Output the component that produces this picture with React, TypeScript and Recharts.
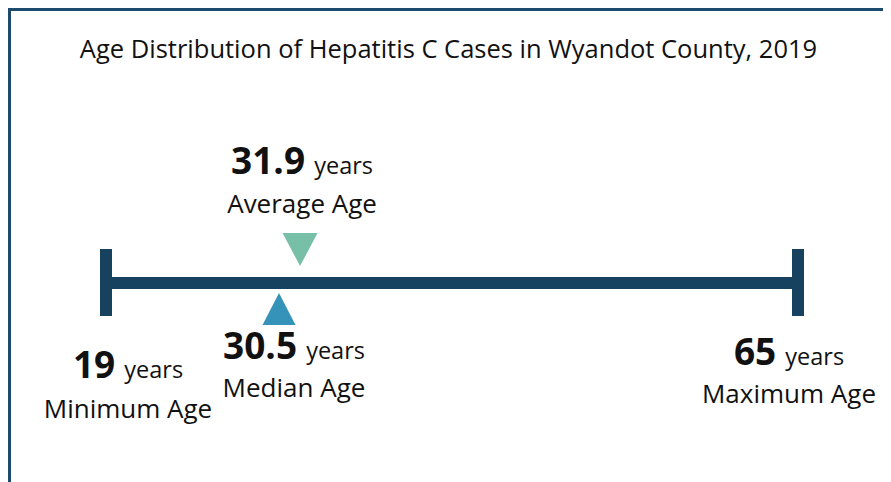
import React from 'react';
import { ScatterChart, Scatter, XAxis, YAxis } from 'recharts';

const statLabels = ['Minimum Age', 'Average Age', 'Median Age', 'Maximum Age'];
const statAges = [19, 31.9, 30.5, 65];

const NAVY = '#17425f';
const FONT = '"Open Sans", "Noto Sans", sans-serif';

const toPoint = (i: number) => ({ age: statAges[i], level: 0, label: statLabels[i] });
const rangeData = [toPoint(0), toPoint(3)];
const averageData = [toPoint(1)];
const medianData = [toPoint(2)];

// text block: bold value + "years", then the stat name underneath
const StatText = ({ x, y, gap, value, label }: any) => (
  <g fontFamily={FONT} fill="#111">
    <text x={x} y={y} textAnchor="middle">
      <tspan fontWeight={700} fontSize={37}>{value}</tspan>
      <tspan fontSize={23.5} dx={3}>{' years'}</tspan>
    </text>
    <text x={x} y={y + gap} textAnchor="middle" fontSize={26}>{label}</text>
  </g>
);

const CapShape = (props: any) => {
  const { cx, cy, payload } = props;
  const isMin = payload.age === statAges[0];
  return (
    <g>
      <rect x={cx - 6} y={cy - 34} width={12} height={67} fill={NAVY} />
      <StatText
        x={isMin ? cx + 22 : cx - 9}
        y={isMin ? cy + 95 : cy + 82}
        gap={isMin ? 40 : 38}
        value={payload.age}
        label={payload.label}
      />
    </g>
  );
};

const AverageShape = (props: any) => {
  const { cx, cy, payload } = props;
  return (
    <g>
      <polygon points={`${cx - 17.5},${cy - 50} ${cx + 17.5},${cy - 50} ${cx},${cy - 17}`} fill="#77bfa6" />
      <StatText x={cx + 2} y={cy - 109} gap={39} value={payload.age} label={payload.label} />
    </g>
  );
};

const MedianShape = (props: any) => {
  const { cx, cy, payload } = props;
  return (
    <g>
      <polygon points={`${cx - 16.5},${cy + 42} ${cx + 16.5},${cy + 42} ${cx},${cy + 10}`} fill="#3593b9" />
      <StatText x={cx + 15} y={cy + 76} gap={38} value={payload.age} label={payload.label} />
    </g>
  );
};

export default function App() {
  return (
    <div
      style={{
        position: 'relative',
        width: 879,
        height: 471,
        borderTop: '3px solid #1c4b6e',
        borderLeft: '3px solid #1c4b6e',
        borderRight: '1px solid #aeb3b8',
        background: '#fff',
      }}
    >
      <div
        style={{
          position: 'absolute',
          top: 25,
          left: -2,
          width: '100%',
          textAlign: 'center',
          fontFamily: FONT,
          fontSize: 25.5,
          lineHeight: '25px',
          color: '#111',
        }}
      >
        Age Distribution of Hepatitis C Cases in Wyandot County, 2019
      </div>
      <ScatterChart width={879} height={471} margin={{ top: 100, right: 92, bottom: 27, left: 95 }}>
        <XAxis type="number" dataKey="age" domain={[19, 65]} hide />
        <YAxis type="number" dataKey="level" domain={[-1, 1]} hide />
        <Scatter
          data={rangeData}
          line={{ stroke: NAVY, strokeWidth: 12 }}
          shape={CapShape}
          isAnimationActive={false}
        />
        <Scatter data={averageData} shape={AverageShape} isAnimationActive={false} />
        <Scatter data={medianData} shape={MedianShape} isAnimationActive={false} />
      </ScatterChart>
    </div>
  );
}
